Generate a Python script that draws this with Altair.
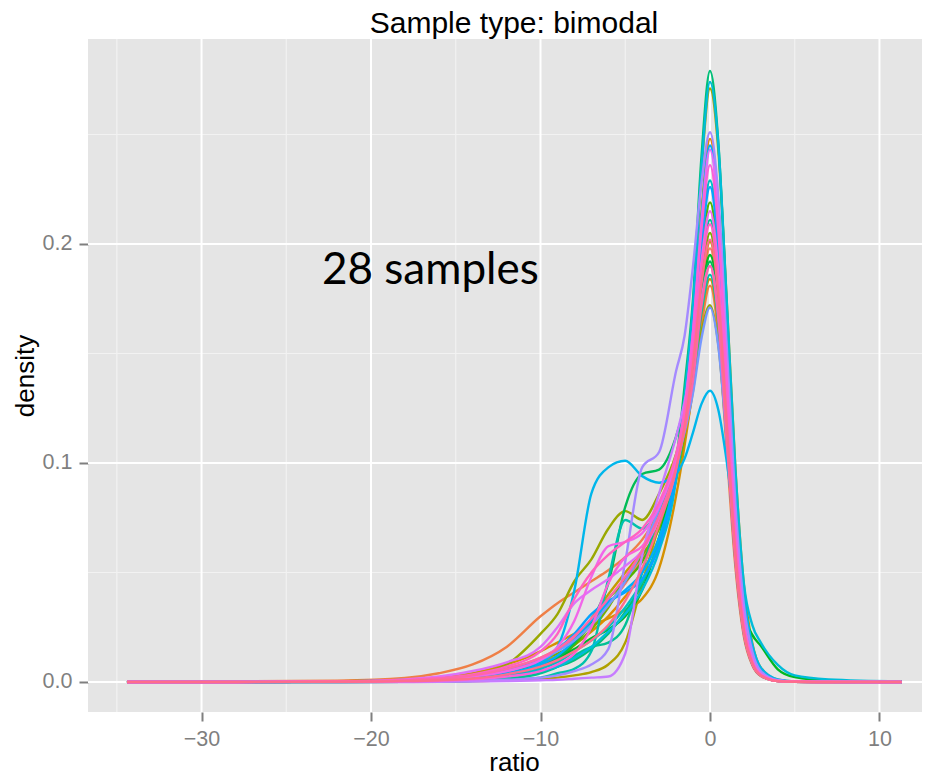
import math
import altair as alt
import pandas as pd

# ---- data ----
X = [-34.4, -28, -22, -18, -16, -14, -12, -10, -9, -8, -7, -6, -5, -4, -3, -2, -1.5, -1, -0.5, 0,
     0.5, 1, 1.5, 2, 2.5, 3, 4, 5, 7, 11.3]

S01 = [0, 0, 0.0003, 0.0008, 0.0015, 0.003, 0.006, 0.011, 0.015, 0.02, 0.027, 0.035, 0.045, 0.057, 0.072, 0.094, 0.115, 0.142, 0.178, 0.198, 0.1742, 0.1198, 0.0644, 0.0277, 0.0109, 0.004, 0.0006, 0.0002, 0.0001, 0]
S02 = [0, 0.0003, 0.0006, 0.0018, 0.004, 0.008, 0.016, 0.03, 0.036, 0.041, 0.046, 0.051, 0.057, 0.065, 0.078, 0.097, 0.112, 0.133, 0.163, 0.181, 0.1575, 0.1041, 0.0525, 0.0208, 0.0076, 0.0027, 0.0004, 0.0001, 0, 0]
S03 = [0, 0, 0.0002, 0.0006, 0.0012, 0.0025, 0.005, 0.009, 0.012, 0.017, 0.023, 0.03, 0.039, 0.05, 0.066, 0.093, 0.12, 0.158, 0.215, 0.248, 0.2158, 0.1426, 0.0719, 0.0285, 0.0104, 0.0037, 0.0005, 0.0001, 0, 0]
S04 = [0, 0, 0.0003, 0.001, 0.002, 0.004, 0.008, 0.014, 0.018, 0.022, 0.026, 0.029, 0.033, 0.038, 0.052, 0.085, 0.108, 0.135, 0.168, 0.184, 0.1619, 0.1113, 0.0598, 0.0258, 0.0101, 0.0037, 0.0006, 0.0002, 0.0001, 0]
S05 = [0, 0, 0.0001, 0.0004, 0.0008, 0.0015, 0.003, 0.007, 0.011, 0.018, 0.029, 0.04, 0.05, 0.06, 0.076, 0.1, 0.12, 0.146, 0.181, 0.201, 0.1769, 0.1216, 0.0653, 0.0281, 0.0111, 0.004, 0.0006, 0.0002, 0.0001, 0]
S06 = [0, 0, 0, 0.0001, 0.0002, 0.0004, 0.0008, 0.0015, 0.002, 0.003, 0.0045, 0.008, 0.018, 0.045, 0.072, 0.1, 0.128, 0.17, 0.234, 0.271, 0.242, 0.1724, 0.0976, 0.0442, 0.0176, 0.0065, 0.0011, 0.0003, 0.0001, 0]
S07 = [0, 0, 0.0003, 0.001, 0.0018, 0.0035, 0.008, 0.022, 0.031, 0.046, 0.056, 0.07, 0.078, 0.074, 0.086, 0.104, 0.118, 0.136, 0.16, 0.172, 0.1536, 0.1094, 0.0619, 0.028, 0.0112, 0.0041, 0.0007, 0.0002, 0.0001, 0]
S08 = [0, 0, 0.0002, 0.0007, 0.0013, 0.0027, 0.0055, 0.01, 0.013, 0.017, 0.024, 0.034, 0.047, 0.058, 0.07, 0.092, 0.113, 0.145, 0.184, 0.205, 0.1784, 0.1179, 0.0595, 0.0236, 0.0086, 0.0031, 0.0004, 0.0001, 0, 0]
S09 = [0, 0, 0.0001, 0.0003, 0.0006, 0.0012, 0.0025, 0.006, 0.01, 0.017, 0.027, 0.038, 0.046, 0.055, 0.072, 0.098, 0.122, 0.155, 0.196, 0.219, 0.1927, 0.1325, 0.0712, 0.0307, 0.012, 0.0044, 0.0007, 0.0002, 0.0001, 0]
S10 = [0, 0, 0.0002, 0.0005, 0.001, 0.002, 0.004, 0.008, 0.011, 0.015, 0.02, 0.024, 0.03, 0.042, 0.066, 0.098, 0.118, 0.142, 0.176, 0.195, 0.1741, 0.124, 0.0702, 0.0318, 0.0215, 0.0165, 0.0058, 0.0022, 0.0006, 0.0001]
S11 = [0, 0, 0.0001, 0.0004, 0.0008, 0.0016, 0.003, 0.007, 0.011, 0.018, 0.028, 0.045, 0.08, 0.095, 0.097, 0.112, 0.126, 0.146, 0.176, 0.192, 0.167, 0.1104, 0.0557, 0.0221, 0.0081, 0.0029, 0.0004, 0.0001, 0, 0]
S12 = [0, 0, 0.0001, 0.0003, 0.0006, 0.0012, 0.0025, 0.005, 0.007, 0.01, 0.015, 0.022, 0.032, 0.045, 0.064, 0.1, 0.135, 0.175, 0.24, 0.279, 0.2455, 0.1688, 0.0907, 0.0391, 0.0153, 0.0056, 0.0008, 0.0002, 0.0001, 0]
S13 = [0, 0, 0, 0.0001, 0.0003, 0.0006, 0.0015, 0.004, 0.007, 0.012, 0.016, 0.018, 0.026, 0.05, 0.078, 0.1, 0.12, 0.15, 0.19, 0.211, 0.1857, 0.1277, 0.0686, 0.0295, 0.0116, 0.0042, 0.0006, 0.0002, 0.0001, 0]
S14 = [0, 0, 0, 0.0001, 0.0002, 0.0004, 0.001, 0.002, 0.004, 0.006, 0.014, 0.047, 0.074, 0.07, 0.08, 0.1, 0.115, 0.137, 0.169, 0.186, 0.1637, 0.1125, 0.0605, 0.026, 0.0102, 0.0037, 0.0006, 0.0002, 0.0001, 0]
S15 = [0, 0, 0.0001, 0.0004, 0.0008, 0.0015, 0.003, 0.006, 0.009, 0.014, 0.019, 0.025, 0.034, 0.046, 0.064, 0.093, 0.118, 0.155, 0.203, 0.229, 0.2015, 0.1385, 0.0744, 0.0321, 0.0126, 0.0046, 0.0007, 0.0002, 0.0001, 0]
S16 = [0, 0, 0.0001, 0.0003, 0.0006, 0.0012, 0.0025, 0.005, 0.007, 0.011, 0.016, 0.023, 0.031, 0.042, 0.06, 0.093, 0.13, 0.172, 0.235, 0.274, 0.2445, 0.172, 0.097, 0.045, 0.026, 0.018, 0.0078, 0.003, 0.0012, 0.0003]
S17 = [0, 0, 0.0003, 0.0008, 0.0015, 0.003, 0.006, 0.009, 0.016, 0.042, 0.086, 0.098, 0.101, 0.094, 0.091, 0.095, 0.102, 0.114, 0.127, 0.133, 0.124, 0.1, 0.069, 0.038, 0.017, 0.0065, 0.0012, 0.0003, 0.0001, 0]
S18 = [0, 0, 0.0001, 0.0004, 0.0009, 0.002, 0.004, 0.008, 0.012, 0.019, 0.028, 0.036, 0.042, 0.05, 0.066, 0.096, 0.125, 0.162, 0.213, 0.245, 0.2156, 0.1482, 0.0796, 0.0343, 0.0135, 0.0049, 0.0007, 0.0002, 0.0001, 0]
S19 = [0, 0, 0.0002, 0.0006, 0.0012, 0.0025, 0.005, 0.01, 0.015, 0.022, 0.031, 0.037, 0.041, 0.047, 0.062, 0.094, 0.12, 0.155, 0.2, 0.226, 0.1966, 0.13, 0.0655, 0.026, 0.0095, 0.0034, 0.0005, 0.0001, 0, 0]
S20 = [0, 0, 0.0002, 0.0006, 0.0012, 0.0025, 0.005, 0.01, 0.014, 0.019, 0.026, 0.035, 0.046, 0.06, 0.079, 0.1, 0.114, 0.132, 0.157, 0.171, 0.1527, 0.1088, 0.0616, 0.0279, 0.0111, 0.0041, 0.0007, 0.0002, 0.0001, 0]
S21 = [0, 0, 0, 0.0001, 0.0002, 0.0005, 0.001, 0.002, 0.003, 0.005, 0.008, 0.015, 0.055, 0.098, 0.105, 0.142, 0.158, 0.19, 0.228, 0.251, 0.2209, 0.1519, 0.0816, 0.0351, 0.0138, 0.005, 0.0008, 0.0002, 0.0001, 0]
S22 = [0, 0, 0, 0, 0.0001, 0.0002, 0.0004, 0.0008, 0.001, 0.0015, 0.002, 0.0025, 0.013, 0.058, 0.086, 0.112, 0.128, 0.148, 0.175, 0.19, 0.1672, 0.115, 0.0618, 0.0266, 0.0105, 0.0038, 0.0006, 0.0002, 0.0001, 0]
S23 = [0, 0, 0.0003, 0.0012, 0.0025, 0.005, 0.009, 0.016, 0.025, 0.036, 0.042, 0.047, 0.053, 0.06, 0.075, 0.1, 0.125, 0.16, 0.21, 0.243, 0.2114, 0.1397, 0.0705, 0.0279, 0.0102, 0.0036, 0.0005, 0.0001, 0, 0]
S24 = [0, 0, 0.0002, 0.0006, 0.0012, 0.0025, 0.005, 0.01, 0.016, 0.028, 0.048, 0.062, 0.064, 0.068, 0.08, 0.102, 0.122, 0.152, 0.192, 0.215, 0.1871, 0.1236, 0.0624, 0.0247, 0.009, 0.0032, 0.0004, 0.0001, 0, 0]
S25 = [0, 0, 0.0001, 0.0003, 0.0006, 0.0012, 0.0025, 0.005, 0.008, 0.013, 0.025, 0.045, 0.057, 0.062, 0.075, 0.098, 0.124, 0.16, 0.207, 0.236, 0.2053, 0.1357, 0.0684, 0.0271, 0.0099, 0.0035, 0.0005, 0.0001, 0, 0]
S26 = [0, 0, 0.0003, 0.0009, 0.0018, 0.0035, 0.007, 0.014, 0.022, 0.038, 0.05, 0.058, 0.064, 0.07, 0.082, 0.104, 0.123, 0.15, 0.189, 0.209, 0.1818, 0.1202, 0.0606, 0.024, 0.0088, 0.0031, 0.0004, 0.0001, 0, 0]
S27 = [0, 0, 0.0002, 0.0007, 0.0014, 0.003, 0.006, 0.011, 0.015, 0.021, 0.029, 0.038, 0.048, 0.06, 0.076, 0.098, 0.115, 0.138, 0.172, 0.19, 0.1653, 0.1093, 0.0551, 0.0219, 0.008, 0.0029, 0.0004, 0.0001, 0, 0]
S28 = [0, 0, 0.0001, 0.0004, 0.0008, 0.0016, 0.0035, 0.007, 0.01, 0.014, 0.019, 0.026, 0.037, 0.052, 0.072, 0.097, 0.117, 0.145, 0.182, 0.202, 0.1757, 0.1162, 0.0586, 0.0232, 0.0085, 0.003, 0.0004, 0.0001, 0, 0]

SERIES = [S01, S02, S03, S04, S05, S06, S07, S08, S09, S10, S11, S12, S13, S14,
          S15, S16, S17, S18, S19, S20, S21, S22, S23, S24, S25, S26, S27, S28]
NAMES = ["sample %02d" % (k + 1) for k in range(len(SERIES))]

X_TICKS = [-30, -20, -10, 0, 10]
X_MINOR = [-35, -25, -15, -5, 5]
Y_TICKS = [0.0, 0.1, 0.2]
Y_MINOR = [0.05, 0.15, 0.25]

TITLE = "Sample type: bimodal"
ANNOT_TEXT = ["28 samples"]
ANNOT_X = [-16.5]
ANNOT_Y = [0.1877]

X_DOMAIN = [-36.70, 12.51]
Y_DOMAIN = [-0.0137, 0.2936]


# ---- ggplot2 default hue palette (hcl, c=100, l=65) ----
def hcl_hex(h, c=100.0, l=65.0):
    hr = math.radians(h)
    u, v = c * math.cos(hr), c * math.sin(hr)
    xn, yn, zn = 95.047, 100.0, 108.883
    d = xn + 15 * yn + 3 * zn
    un, vn = 4 * xn / d, 9 * yn / d
    Y = yn * ((l + 16) / 116) ** 3
    up, vp = u / (13 * l) + un, v / (13 * l) + vn
    Xc = 9 * Y * up / (4 * vp)
    Zc = Y * (12 - 3 * up - 20 * vp) / (4 * vp)
    Xc, Y, Zc = Xc / 100, Y / 100, Zc / 100
    rgb = [3.2404542 * Xc - 1.5371385 * Y - 0.4985314 * Zc,
           -0.9692660 * Xc + 1.8760108 * Y + 0.0415560 * Zc,
           0.0556434 * Xc - 0.2040259 * Y + 1.0572252 * Zc]
    out = []
    for ch in rgb:
        ch = 12.92 * ch if ch <= 0.0031308 else 1.055 * ch ** (1 / 2.4) - 0.055
        out.append(int(round(max(0.0, min(1.0, ch)) * 255)))
    return "#%02X%02X%02X" % tuple(out)


n = len(SERIES)
COLORS = [hcl_hex(15 + 360.0 * k / n) for k in range(n)]

rows = []
for name, ys in zip(NAMES, SERIES):
    for xv, yv in zip(X, ys):
        rows.append({"sample": name, "ratio": xv, "density": yv})
df = pd.DataFrame(rows)

xscale = alt.Scale(domain=X_DOMAIN, nice=False, zero=False)
yscale = alt.Scale(domain=Y_DOMAIN, nice=False, zero=False)
xaxis = alt.Axis(values=X_TICKS, format="d", title="ratio", titleX=426, titlePadding=0)
yaxis = alt.Axis(values=Y_TICKS, format=".1f", title="density", titlePadding=4)

minor_x = alt.Chart(pd.DataFrame({"ratio": X_MINOR})).mark_rule(
    color="#F2F2F2", strokeWidth=1.2).encode(x=alt.X("ratio:Q", scale=xscale, axis=xaxis))
minor_y = alt.Chart(pd.DataFrame({"density": Y_MINOR})).mark_rule(
    color="#F2F2F2", strokeWidth=1.2).encode(y=alt.Y("density:Q", scale=yscale, axis=yaxis))
major_x = alt.Chart(pd.DataFrame({"ratio": X_TICKS})).mark_rule(
    color="#FFFFFF", strokeWidth=2).encode(x=alt.X("ratio:Q", scale=xscale, axis=xaxis))
major_y = alt.Chart(pd.DataFrame({"density": Y_TICKS})).mark_rule(
    color="#FFFFFF", strokeWidth=2).encode(y=alt.Y("density:Q", scale=yscale, axis=yaxis))

lines = alt.Chart(df).mark_line(interpolate="monotone", strokeWidth=2.4, clip=True).encode(
    x=alt.X("ratio:Q", scale=xscale, axis=xaxis),
    y=alt.Y("density:Q", scale=yscale, axis=yaxis),
    color=alt.Color("sample:N", scale=alt.Scale(domain=NAMES, range=COLORS), legend=None),
    detail="sample:N",
)

annot = alt.Chart(pd.DataFrame({"ratio": ANNOT_X, "density": ANNOT_Y, "t": ANNOT_TEXT})).mark_text(
    font="Lato", fontSize=44, color="#000000", align="center", baseline="middle").encode(
    x=alt.X("ratio:Q", scale=xscale, axis=xaxis),
    y=alt.Y("density:Q", scale=yscale, axis=yaxis),
    text="t:N",
)

chart = alt.layer(minor_x, minor_y, major_x, major_y, lines, annot).properties(
    width=834,
    height=673,
    title=alt.TitleParams(TITLE, font="Liberation Sans", fontSize=30, fontWeight="normal",
                          color="#000000", anchor="middle", dx=9, offset=-1),
    padding={"left": 80, "top": 31, "right": 0, "bottom": 60},
    autosize=alt.AutoSizeParams(type="none"),
    background="#FFFFFF",
).configure_view(fill="#E5E5E5", stroke=None).configure_axis(
    labelFont="Liberation Sans", labelFontSize=21.5, labelColor="#7F7F7F",
    tickColor="#7F7F7F", tickSize=9, tickWidth=2, domain=False, grid=False,
    labelPadding=7, titleFont="Liberation Sans", titleFontSize=26,
    titleFontWeight="normal", titleColor="#000000",
)

chart.save("out.html", embed_options={"renderer": "svg", "actions": False})
